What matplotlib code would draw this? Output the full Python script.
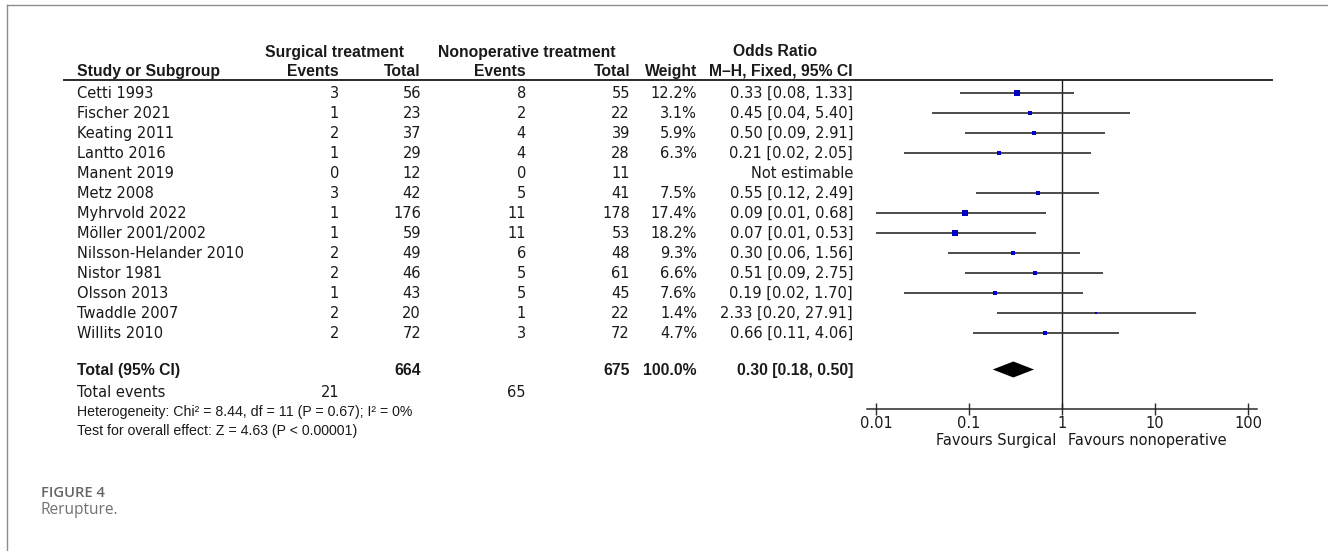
import matplotlib
matplotlib.use("Agg")
import matplotlib.pyplot as plt
import numpy as np

# ---------------- data ----------------
studies = ["Cetti 1993", "Fischer 2021", "Keating 2011", "Lantto 2016", "Manent 2019",
           "Metz 2008", "Myhrvold 2022", "Möller 2001/2002", "Nilsson-Helander 2010",
           "Nistor 1981", "Olsson 2013", "Twaddle 2007", "Willits 2010"]
surg_events = [3, 1, 2, 1, 0, 3, 1, 1, 2, 2, 1, 2, 2]
surg_total = [56, 23, 37, 29, 12, 42, 176, 59, 49, 46, 43, 20, 72]
nonop_events = [8, 2, 4, 4, 0, 5, 11, 11, 6, 5, 5, 1, 3]
nonop_total = [55, 22, 39, 28, 11, 41, 178, 53, 48, 61, 45, 22, 72]
weights = [12.2, 3.1, 5.9, 6.3, None, 7.5, 17.4, 18.2, 9.3, 6.6, 7.6, 1.4, 4.7]
or_est = [0.33, 0.45, 0.50, 0.21, None, 0.55, 0.09, 0.07, 0.30, 0.51, 0.19, 2.33, 0.66]
ci_low = [0.08, 0.04, 0.09, 0.02, None, 0.12, 0.01, 0.01, 0.06, 0.09, 0.02, 0.20, 0.11]
ci_high = [1.33, 5.40, 2.91, 2.05, None, 2.49, 0.68, 0.53, 1.56, 2.75, 1.70, 27.91, 4.06]

total_surg, total_nonop = 664, 675
total_weight = 100.0
total_or, total_lo, total_hi = 0.30, 0.18, 0.50
events_surg, events_nonop = 21, 65
heterogeneity = "Heterogeneity: Chi\u00b2 = 8.44, df = 11 (P = 0.67); I\u00b2 = 0%"
overall = "Test for overall effect: Z = 4.63 (P < 0.00001)"
tick_vals = [0.01, 0.1, 1, 10, 100]
tick_labels = ["0.01", "0.1", "1", "10", "100"]

# ---------------- layout ----------------
W, H = 1328, 551
fig = plt.figure(figsize=(W / 100, H / 100), dpi=100)
plt.rcParams['font.family'] = ['DejaVu Sans']
FS = 10.5
FSB = 11.3
BOLD_FAM = ["Liberation Sans", "DejaVu Sans"]
TXT = "#1a1a1a"

ax0 = fig.add_axes([0, 0, 1, 1])
ax0.set_xlim(0, W)
ax0.set_ylim(H, 0)
ax0.axis("off")

# frame lines
ax0.plot([7, W], [5, 5], color="#8c8c8c", lw=1.0)
ax0.plot([7, 7], [5, H], color="#8c8c8c", lw=1.0)

X_STUDY = 77
X_SE, X_ST, X_NE, X_NT, X_W, X_OR = 339, 421, 526, 630, 697, 853

def t(x, y, s, ha="right", bold=False, fs=None, **kw):
    if fs is None:
        fs = FSB if bold else FS
    if bold and "family" not in kw:
        kw["family"] = BOLD_FAM
    ax0.text(x, y, s, ha=ha, va="baseline", fontsize=fs,
             fontweight="bold" if bold else "normal", color=kw.pop("color", TXT), **kw)

# headers
h1, h2 = 56.5, 76
t(335, h1, "Surgical treatment", ha="center", bold=True)
t(527, h1, "Nonoperative treatment", ha="center", bold=True)
t(775, h1, "Odds Ratio", ha="center", bold=True)
t(X_STUDY, h2, "Study or Subgroup", ha="left", bold=True)
t(X_SE, h2, "Events", bold=True)
t(X_ST, h2, "Total", bold=True)
t(X_NE, h2, "Events", bold=True)
t(X_NT, h2, "Total", bold=True)
t(X_W, h2, "Weight", bold=True)
t(X_OR, h2, "M\u2013H, Fixed, 95% CI", bold=True)
ax0.plot([64, 1272], [79.5, 79.5], color="#2a2a2a", lw=1.4)

row0, dy, off = 92.5, 20, 5.3
row_y = [row0 + i * dy for i in range(len(studies))]
for i, name in enumerate(studies):
    yb = row_y[i] + off
    t(X_STUDY, yb, name, ha="left")
    t(X_SE, yb, str(surg_events[i]))
    t(X_ST, yb, str(surg_total[i]))
    t(X_NE, yb, str(nonop_events[i]))
    t(X_NT, yb, str(nonop_total[i]))
    if weights[i] is not None:
        t(X_W, yb, f"{weights[i]:.1f}%")
        t(X_OR, yb, f"{or_est[i]:.2f} [{ci_low[i]:.2f}, {ci_high[i]:.2f}]")
    else:
        t(X_OR, yb, "Not estimable")

y_tot = 369.5
t(X_STUDY, y_tot + off, "Total (95% CI)", ha="left", bold=True)
t(X_ST, y_tot + off, str(total_surg), bold=True)
t(X_NT, y_tot + off, str(total_nonop), bold=True)
t(X_W, y_tot + off, f"{total_weight:.1f}%", bold=True)
t(X_OR, y_tot + off, f"{total_or:.2f} [{total_lo:.2f}, {total_hi:.2f}]", bold=True)

y_ev = 392
t(X_STUDY, y_ev + off, "Total events", ha="left")
t(X_SE, y_ev + off, str(events_surg))
t(X_NE, y_ev + off, str(events_nonop))
t(X_STUDY, 410.5 + off, heterogeneity, ha="left", fs=10.2,
  family=["Liberation Sans", "DejaVu Sans"])
t(X_STUDY, 430 + off, overall, ha="left", fs=10.2,
  family=["Liberation Sans", "DejaVu Sans"])

# caption
ax0.text(41, 497, "FIGURE 4", ha="left", va="baseline", fontsize=10.6,
         fontweight="semibold", color="#666666", family=["Open Sans", "DejaVu Sans"])
ax0.text(41, 514, "Rerupture.", ha="left", va="baseline", fontsize=11.2,
         color="#707070", family=["Open Sans", "DejaVu Sans"])

# ---------------- forest plot ----------------
px_left, px_right = 867, 1257
px_one, px_dec = 1062, 93
ax = fig.add_axes([px_left / W, 0, (px_right - px_left) / W, 1])
ax.patch.set_alpha(0)
ax.set_xscale("log")
ax.set_xlim(10 ** ((px_left - px_one) / px_dec), 10 ** ((px_right - px_one) / px_dec))
ax.set_ylim(H, 0)

y_axis = 409
for sp in ["left", "right", "top"]:
    ax.spines[sp].set_visible(False)
ax.spines["bottom"].set_position(("data", y_axis))
ax.spines["bottom"].set_color("#2a2a2a")
ax.spines["bottom"].set_linewidth(1.1)
ax.set_yticks([])
ax.set_xticks(tick_vals)
ax.set_xticklabels(tick_labels)
ax.xaxis.set_minor_locator(matplotlib.ticker.NullLocator())
ax.tick_params(axis="x", direction="inout", length=8, width=1.0, color="#2a2a2a",
               labelsize=FS, labelcolor=TXT, pad=1)

ax.vlines(1, 80, y_axis, color="#1a1a1a", lw=1.0)

for i in range(len(studies)):
    if or_est[i] is None:
        continue
    ax.hlines(row_y[i], ci_low[i], ci_high[i], color="#2e2e2e", lw=1.2)
    side_px = 1.3 * np.sqrt(weights[i]) + 0.8
    ax.plot(or_est[i], row_y[i] + 0.5, marker="s", ms=side_px * 0.72, mew=0,
            color="#0000c8", linestyle="none")

dh = 8
ax.fill([total_lo, total_or, total_hi, total_or],
        [y_tot, y_tot - dh, y_tot, y_tot + dh], color="black", lw=0)

ax.text(0.87, 440, "Favours Surgical", ha="right", va="center", fontsize=FS, color=TXT)
ax.text(1.15, 440, "Favours nonoperative", ha="left", va="center", fontsize=FS, color=TXT)

fig.savefig("out.png", dpi=100)
